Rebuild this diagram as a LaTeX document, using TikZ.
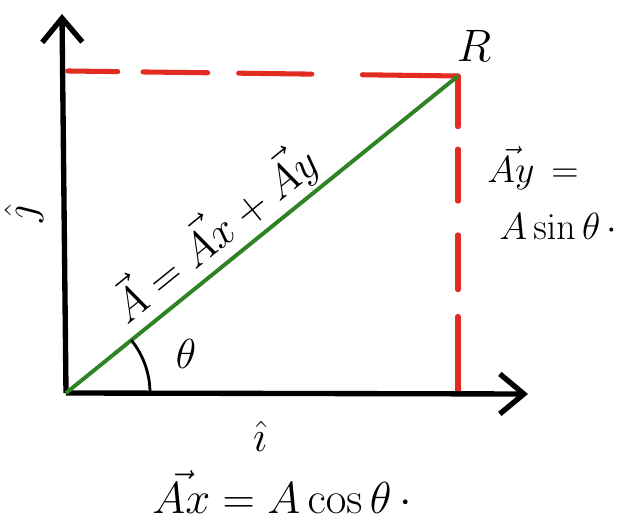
\documentclass[tikz,border=0pt]{standalone}
\usetikzlibrary{arrows.meta}
\definecolor{penred}{RGB}{226,44,34}
\definecolor{pengreen}{RGB}{46,132,36}
\begin{document}
\begin{tikzpicture}[x=0.025cm,y=-0.025cm,declare function={t=39;},
        lbl/.style={font=\Huge},
        biglbl/.style={font=\Huge,scale=1.25},
        axisline/.style={line width=3.8pt,-{Straight Barb[length=0.6cm,width=1.0cm]}},
        vecline/.style={line width=2.8pt,pengreen},
        projline/.style={line width=3.6pt,penred,line cap=round}]
        \useasboundingbox (0,0) rectangle (633,523);
        \coordinate (O) at (66,393);
        \coordinate (Ytop) at (62,14);
        \coordinate (Xend) at (528,394);
        \coordinate (R) at (458,76);
        \coordinate (Q) at (68,71);
        \coordinate (P) at (458,392);
        % projections of the vector
        \draw[projline,dash pattern=on 68pt off 36pt on 52pt off 22pt on 46pt off 18pt on 40pt] (R) -- (Q);
        \draw[projline,dash pattern=on 36pt off 16pt on 37pt off 24pt on 39pt off 19pt on 60pt] (R) -- (P);
        \draw[axisline] (O) -- (Ytop);
        \draw[axisline] (O) -- (Xend);
        \draw[vecline] (O) -- (R);
        \draw[line width=2pt] (O) ++(84,0) arc[start angle=0,end angle=-t,radius=84];
        \node[lbl,scale=1.2] (th) at (186,354) {$\theta$};
        \node[lbl,scale=1.3] (Rlab) at (474,46) {$R$};
        \node[biglbl,rotate=t] (sum) at (214,234) {$\vec{A}=\vec{Ax}+\vec{Ay}$};
        \node[biglbl,rotate=90] (jhat) at (24,214) {$\hat{\jmath}$};
        \node[biglbl] (ihat) at (260,436) {$\hat{\imath}$};
        \node[lbl,scale=1.08,anchor=west] (Ay) at (482,168) {$\vec{Ay}\,=$};
        \node[lbl,scale=1.08,anchor=west] (Asin) at (494,226) {$A\sin\theta\,\cdot$};
        \node[lbl,scale=1.28] (Ax) at (282,492) {$\vec{Ax}=A\cos\theta\,\cdot$};
\end{tikzpicture}
\end{document}
